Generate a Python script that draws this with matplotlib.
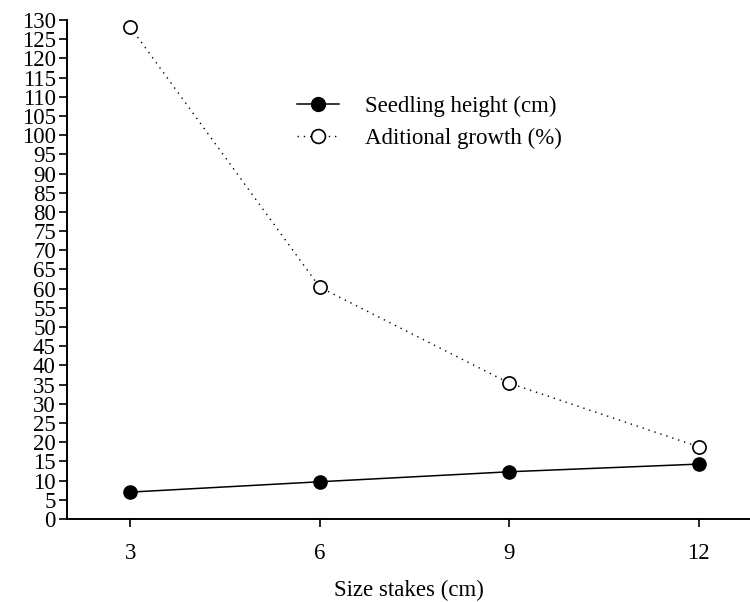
import matplotlib
matplotlib.use("Agg")
import matplotlib.pyplot as plt

# Data
size_stakes = [3, 6, 9, 12]
seedling_height = [7.0, 9.7, 12.3, 14.3]
additional_growth = [128.2, 60.4, 35.4, 18.8]
y_ticks = list(range(0, 131, 5))

plt.rcParams['font.family'] = ['Liberation Serif', 'DejaVu Serif']
plt.rcParams['font.size'] = 16.5

fig = plt.figure(figsize=(7.5, 6.02), dpi=100)
ax = fig.add_axes([0.0893, 0.1379, 0.9107, 0.8289])

ax.plot(size_stakes, seedling_height, '-', color='black', lw=1.1,
        marker='o', ms=9.5, mfc='black', mec='black',
        label='Seedling height (cm)', clip_on=False)
ax.plot(size_stakes, additional_growth, linestyle=(0, (1, 3.5)), color='black', lw=1.0,
        marker='o', ms=9.5, mfc='white', mec='black', mew=1.2,
        label='Aditional growth (%)', clip_on=False)

ax.set_xlim(2.0, 12.81)
ax.set_ylim(0, 130)
ax.set_xticks(size_stakes)
ax.set_yticks(y_ticks)

for side in ['top', 'right']:
    ax.spines[side].set_visible(False)
for side in ['left', 'bottom']:
    ax.spines[side].set_linewidth(1.4)

ax.tick_params(axis='both', direction='out', length=6, width=1.2, labelsize=16.5)
ax.tick_params(axis='y', pad=2)
ax.tick_params(axis='x', pad=11)
ax.set_xlabel('Size stakes (cm)', fontsize=16.5, labelpad=12)

ax.legend(loc='upper left', bbox_to_anchor=(0.324, 0.866), frameon=False,
          fontsize=16.5, handlelength=1.8, handletextpad=1.13,
          labelspacing=0.46, borderaxespad=0, markerscale=1.05)

fig.savefig('out.png', dpi=100)
